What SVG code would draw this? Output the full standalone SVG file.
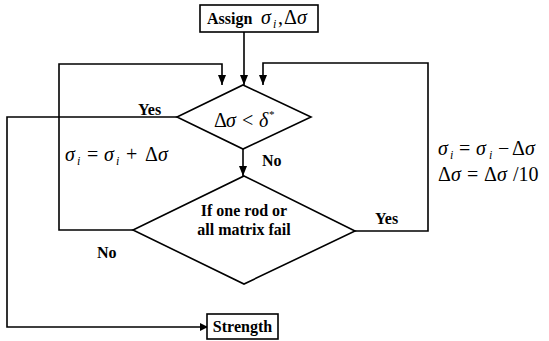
<svg xmlns="http://www.w3.org/2000/svg" width="549" height="341" viewBox="0 0 549 341">
<style>
.s{fill:none;stroke:#000;stroke-width:1.6}
.b{fill:#fff;stroke:#000;stroke-width:1.6}
.t{font-family:"Liberation Serif",serif;font-weight:bold;font-size:16px;fill:#000}
.m{font-family:"Liberation Serif",serif;font-size:20px;fill:#000}
.i{font-style:italic}
.sub{font-style:italic;font-size:12px}
</style>
<defs>
<marker id="a" viewBox="0 0 10 10" refX="10" refY="5" markerWidth="8" markerHeight="8" markerUnits="userSpaceOnUse" orient="auto">
<path d="M0,0L10,5L0,10z" fill="#000"/>
</marker>
<marker id="a2" viewBox="0 0 10 10" refX="10" refY="5" markerWidth="10" markerHeight="10" markerUnits="userSpaceOnUse" orient="auto">
<path d="M0,1L10,5L0,9z" fill="#000"/>
</marker>
</defs>
<g id="connectors">
<path class="s" d="M244,32V85" marker-end="url(#a2)"/>
<path class="s" d="M133,230H59V64H222V85" marker-end="url(#a2)"/>
<path class="s" d="M355,231H428V63H263V85" marker-end="url(#a2)"/>
<path class="s" d="M243,149V176" marker-end="url(#a2)"/>
<path class="s" d="M177,117H7V327H208" marker-end="url(#a)"/>
</g>
<g id="assign">
<rect class="b" x="200" y="5" width="118" height="27"/>
<text class="t" x="207" y="24">Assign</text>
<text class="m"><tspan class="i" x="261" y="24">σ</tspan><tspan class="sub" x="273" y="28">i</tspan><tspan x="278" y="24">,</tspan><tspan x="284" y="24">Δ</tspan><tspan class="i" x="297" y="24">σ</tspan></text>
</g>
<g id="check-delta">
<path class="b" d="M243,85L311,117L243,149L177,117Z"/>
<text class="m"><tspan x="214" y="127">Δ</tspan><tspan class="i" x="226" y="127">σ</tspan><tspan x="242" y="127">&lt;</tspan><tspan class="i" x="259" y="127">δ</tspan><tspan font-size="11" x="269" y="118">*</tspan></text>
</g>
<g id="check-fail">
<path class="b" d="M244,176L355,231L244,284L133,230Z"/>
<text class="t" x="244" y="216" text-anchor="middle">If one rod or</text>
<text class="t" x="244" y="235" text-anchor="middle">all matrix fail</text>
</g>
<g id="strength">
<rect class="b" x="207" y="314" width="71" height="25"/>
<text class="t" x="242.5" y="332" text-anchor="middle">Strength</text>
</g>
<g id="labels">
<text class="t" x="138" y="115">Yes</text>
<text class="t" x="262" y="166">No</text>
<text class="t" x="375" y="224">Yes</text>
<text class="t" x="97" y="258">No</text>
<text class="m"><tspan class="i" x="65" y="161">σ</tspan><tspan class="sub" x="77" y="165">i</tspan><tspan x="87" y="161">=</tspan><tspan class="i" x="104" y="161">σ</tspan><tspan class="sub" x="116" y="165">i</tspan><tspan x="126" y="161">+</tspan><tspan x="145" y="161">Δ</tspan><tspan class="i" x="158" y="161">σ</tspan></text>
<text class="m"><tspan class="i" x="438" y="155">σ</tspan><tspan class="sub" x="450" y="159">i</tspan><tspan x="459" y="155">=</tspan><tspan class="i" x="476" y="155">σ</tspan><tspan class="sub" x="489" y="159">i</tspan><tspan x="498" y="155">−</tspan><tspan x="512" y="155">Δ</tspan><tspan class="i" x="525" y="155">σ</tspan></text>
<text class="m"><tspan x="438" y="181">Δ</tspan><tspan class="i" x="451" y="181">σ</tspan><tspan x="467" y="181">=</tspan><tspan x="484" y="181">Δ</tspan><tspan class="i" x="497" y="181">σ</tspan><tspan x="513" y="181">/10</tspan></text>
</g>
</svg>
